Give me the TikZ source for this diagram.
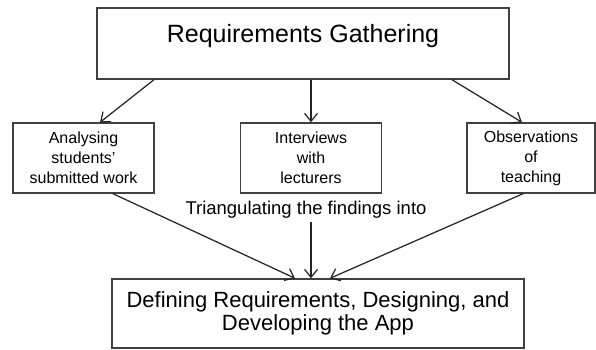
\documentclass[tikz,border=0pt]{standalone}
\usepackage{fontspec}
\setmainfont{Liberation Sans}
\usetikzlibrary{arrows.meta}

\begin{document}
\begin{tikzpicture}[x=1pt, y=-1pt]
    % Styles
    \tikzset{
        box/.style={rectangle, draw=black!75, line width=1.4pt,
                    inner sep=0pt, align=center, text=black},
        source/.style={box, font=\fontsize{16}{20}\selectfont,
                    minimum width=141pt, minimum height=70pt},
        flow/.style={-{Straight Barb[length=8pt,width=13pt]},
                    line width=1.25pt, draw=black!85}
    }
    \useasboundingbox (0,0) rectangle (596,349);

    % Requirements gathering
    \node[box, minimum width=412pt, minimum height=71pt,
          font=\fontsize{25}{30}\selectfont,
          text height=18pt, text depth=21pt] (gather) at (303,43.5) {Requirements Gathering};

    % Sources
    \node[source] (work) at (83.5,158) {Analysing\\students'\\submitted work};
    \node[source] (lect) at (311,158) {Interviews\\with\\lecturers};
    \node[source, minimum width=128pt] (obs) at (531,158) {Observations\\of\\teaching};

    % Result
    \node[box, minimum width=412pt, minimum height=69pt,
          font=\fontsize{22}{23.5}\selectfont] (app) at (318,313.5)
        {Defining Requirements, Designing, and\\Developing the App};

    % Triangulation
    \node[font=\fontsize{18.5}{22}\selectfont, inner sep=0pt] (tri) at (306,210)
        {Triangulating the findings into};

    % Connections
    \draw[flow] ([xshift=-149pt]gather.south) -- ([xshift=16.5pt]work.north);
    \draw[flow] (gather.south -| lect.north) -- (lect.north);
    \draw[flow] ([xshift=149pt]gather.south) -- ([xshift=-9pt]obs.north);
    \draw[flow] ([xshift=29.5pt]work.south) -- ([xshift=-23pt]app.north);
    \draw[flow] ([yshift=-3pt]tri.south -| lect.south) -- (app.north -| lect.south);
    \draw[flow] ([xshift=-8pt]obs.south) -- ([xshift=12pt]app.north);
\end{tikzpicture}
\end{document}
